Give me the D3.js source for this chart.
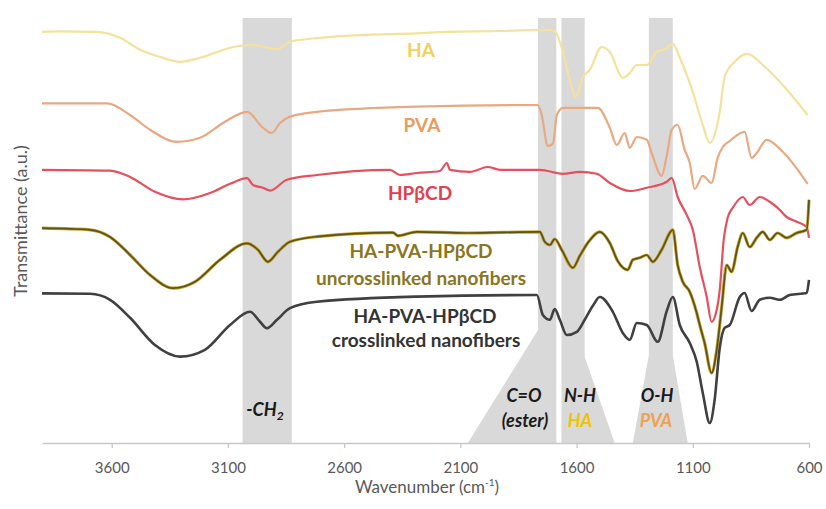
<!DOCTYPE html>
<html><head><meta charset="utf-8">
<script src="https://cdn.jsdelivr.net/npm/d3@7"></script>
<style>
body{margin:0;background:#fff}
svg{display:block}
text{font-family:Lato,"Open Sans",sans-serif}
</style>
</head><body>
<svg id="c" width="826" height="509"></svg>
<script>
// ---- data (wavenumber cm-1, transmittance a.u.) ----
const tickValues = [3600, 3100, 2600, 2100, 1600, 1100, 600];

const haSpectrum = [[3900,102.8],[3822,102.9],[3663,102.8],[3564,101.3],[3478,98.3],[3392,96.5],[3306,95.3],[3220,96.3],[3134,98],[3078,99],[2992,99.5],[2941,99],[2889,98.4],[2833,100.3],[2704,101.3],[2532,102],[2287,102.4],[2158,102.8],[1930,103],[1715,103.3],[1694,103],[1659,97.8],[1629,90.8],[1604,86.5],[1573,91.5],[1543,93.3],[1492,99],[1457,97.8],[1401,91.3],[1371,92.5],[1341,94.5],[1298,94.5],[1255,97.8],[1217,98.5],[1186,99.8],[1156,96.3],[1100,87.8],[1057,79.5],[1027,75],[984,82.8],[963,91.5],[920,95.3],[864,97.3],[799,94.5],[713,89.5],[606,82]];

const pvaSpectrum = [[3900,84.9],[3620,84.9],[3521,82],[3435,78.3],[3319,75.3],[3220,76.3],[3113,80.3],[3018,82.8],[2949,78.8],[2911,77.5],[2876,80],[2833,81.6],[2717,82.8],[2287,84.1],[1767,84.5],[1750,82],[1724,74.3],[1702,74.8],[1685,82],[1659,83.8],[1509,83.8],[1457,78.8],[1427,74.5],[1393,77.5],[1371,73.8],[1341,76.5],[1298,75.8],[1277,72.5],[1234,66.8],[1212,71.8],[1191,78.3],[1165,79.5],[1135,73.3],[1113,70],[1092,63.5],[1057,66.8],[1019,65],[993,71.3],[971,74],[941,75.5],[877,77.8],[847,71.3],[825,72.5],[782,75.8],[713,72.8],[606,64.8]];

const hpbcdSpectrum = [[3900,68.3],[3607,68.1],[3521,66.5],[3414,62.8],[3293,60.9],[3177,62.5],[3091,64.8],[3018,66.2],[2992,64.5],[2949,63.8],[2919,63.1],[2846,65.8],[2717,67],[2403,68.3],[2360,67],[2287,67.5],[2188,68],[2158,70],[2145,68.3],[2059,67.8],[1982,69],[1930,68.3],[1758,68.3],[1659,67.3],[1586,67.8],[1513,67.3],[1457,65],[1371,63],[1298,63.8],[1212,65.3],[1191,66.3],[1165,61.5],[1126,57],[1100,53.3],[1070,44],[1040,36.5],[1019,30.3],[997,33.3],[984,38.3],[967,50.8],[950,56.3],[928,58.8],[885,61.5],[855,59.5],[812,61.5],[769,60.3],[735,58.8],[696,56.5],[653,55.3],[610,54],[600,51.3]];

const uncrosslinkedSpectrum = [[3900,53.7],[3693,53.3],[3607,51.5],[3521,47],[3435,42],[3336,38.7],[3242,40.3],[3134,45.8],[3018,49.9],[2971,48.3],[2928,45.3],[2885,47.8],[2833,50.3],[2717,51.6],[2390,52.6],[2369,51.8],[2287,52.8],[2072,52.5],[1758,52.8],[1737,50.3],[1715,49.5],[1694,51],[1664,48.3],[1616,43.8],[1586,46.8],[1552,50],[1500,52.8],[1457,50],[1423,45.5],[1380,43.3],[1358,45.8],[1328,46.3],[1298,47],[1272,45.3],[1234,48.3],[1186,53.3],[1165,44.5],[1143,40.3],[1113,37.8],[1083,32.5],[1070,29.5],[1049,25],[1019,17.5],[997,23.3],[976,33.8],[954,44.5],[933,42.8],[907,49],[885,52.5],[855,49],[825,51.3],[799,52.8],[769,50.8],[735,52.5],[696,51.3],[653,52.5],[610,53.3],[600,60.8]];

const crosslinkedSpectrum = [[3900,37.4],[3693,37.3],[3607,35.8],[3521,31.3],[3414,24.5],[3306,21.6],[3199,23.3],[3091,29.5],[3005,32.8],[2962,30.3],[2932,28.7],[2889,30.8],[2833,33.7],[2717,35.3],[2287,36.6],[1771,37],[1745,32],[1715,30.8],[1694,33.5],[1672,30.8],[1642,27],[1599,27.8],[1565,30.8],[1530,34.3],[1500,36.5],[1444,32.8],[1401,27.5],[1371,25.8],[1341,30],[1298,29.5],[1251,25.3],[1212,33],[1186,36.5],[1156,29.5],[1113,25],[1083,20.3],[1057,12.5],[1027,5],[1006,10.8],[984,23.8],[963,28.8],[941,29.5],[898,36.5],[877,37.5],[847,33],[812,35.8],[769,36.3],[726,35.8],[683,37],[610,37.5],[600,40.8]];

// highlighted bands: [high wn, low wn]
const bandCH2 = [3037, 2825];
const bandTop = 106.25;
// flare polygons below bands, [wn, T]
const flareCO = [[1766,106.25],[1687,106.25],[1687,0],[2068,0],[1766,28.25]];
const flareNH = [[1665,106.25],[1565,106.25],[1565,21.5],[1436,0],[1665,0]];
const flareOH = [[1289,106.25],[1186,106.25],[1186,22],[1122,0],[1358,0],[1289,22]];

// ---- drawing ----
const svg = d3.select("#c");
const x = d3.scaleLinear().domain([3900, 600]).range([42, 809]);
const y = d3.scaleLinear().domain([0, 100]).range([443, 43]);

const bandColor = "#d9d9d9";
const poly = d3.line().x(d => x(d[0])).y(d => y(d[1]));
svg.append("rect").attr("x", x(bandCH2[0])).attr("width", x(bandCH2[1]) - x(bandCH2[0]))
  .attr("y", y(bandTop)).attr("height", y(0) - y(bandTop)).attr("fill", bandColor);
[flareCO, flareNH, flareOH].forEach(p => {
  svg.append("path").attr("d", poly(p) + "Z").attr("fill", bandColor);
});

// axis
const ax = svg.append("g").attr("transform", `translate(0,${y(0)})`)
  .call(d3.axisBottom(x).tickValues(tickValues).tickSize(5).tickSizeOuter(0).tickPadding(14).tickFormat(d3.format("d")));
ax.select(".domain").attr("stroke", "#c8c8c8").attr("stroke-width", 1.3);
ax.selectAll(".tick line").attr("stroke", "#c8c8c8").attr("stroke-width", 1.3);
ax.selectAll(".tick text").attr("fill", "#595959").style("font-size", "15px").style("font-family", "Lato");

const line = d3.line().x(d => x(d[0])).y(d => y(d[1])).curve(d3.curveMonotoneX);
const series = [
  {data: haSpectrum, color: "#f4e19c", w: 2.2},
  {data: pvaSpectrum, color: "#e8a982", w: 2.2},
  {data: hpbcdSpectrum, color: "#e6505c", w: 2.2},
];
series.forEach(s => svg.append("path").attr("d", line(s.data)).attr("fill", "none")
  .attr("stroke", s.color).attr("stroke-width", s.w).attr("stroke-linejoin", "round"));
svg.append("path").attr("d", line(uncrosslinkedSpectrum)).attr("fill", "none")
  .attr("stroke", "#c2a238").attr("stroke-width", 3.2).attr("stroke-linejoin", "round");
svg.append("path").attr("d", line(uncrosslinkedSpectrum)).attr("fill", "none")
  .attr("stroke", "#5e5212").attr("stroke-width", 1.7).attr("stroke-linejoin", "round");
svg.append("path").attr("d", line(crosslinkedSpectrum)).attr("fill", "none")
  .attr("stroke", "#404040").attr("stroke-width", 2.6).attr("stroke-linejoin", "round");

// series labels
function label(txt, cx, by, color, size, style) {
  return svg.append("text").attr("x", cx).attr("y", by).attr("text-anchor", "middle")
    .attr("fill", color).style("font-size", size + "px").style("font-weight", "bold")
    .style("font-style", style || "normal").text(txt);
}
label("HA", 421, 57, "#f3cf5f", 19);
label("PVA", 422, 132, "#e99c5c", 19);
label("HPβCD", 420, 200, "#e0404f", 19);
label("HA-PVA-HPβCD", 421, 258, "#8a7520", 19);
label("uncrosslinked nanofibers", 421, 285, "#8a7520", 19);
label("HA-PVA-HPβCD", 425, 323, "#333333", 19);
label("crosslinked nanofibers", 426, 347, "#333333", 19);

// band labels
const ch = label("-CH", 265, 416, "#1a1a1a", 18, "italic");
ch.append("tspan").attr("dy", 4).style("font-size", "12px").text("2");
label("C=O", 524, 402, "#1a1a1a", 18, "italic");
label("(ester)", 525, 427, "#1a1a1a", 18, "italic");
label("N-H", 580, 402, "#1a1a1a", 18, "italic");
label("HA", 580, 427, "#f2c200", 18, "italic");
label("O-H", 657, 402, "#1a1a1a", 18, "italic");
label("PVA", 656, 427, "#f0a050", 18, "italic");

// axis titles
const xt = svg.append("text").attr("x", 427).attr("y", 493).attr("text-anchor", "middle")
  .attr("fill", "#595959").style("font-size", "17px").text("Wavenumber (cm");
xt.append("tspan").attr("dy", -7).style("font-size", "10px").text("-1");
xt.append("tspan").attr("dy", 7).text(")");
svg.append("text").attr("transform", "translate(27,221) rotate(-90)").attr("text-anchor", "middle")
  .attr("fill", "#595959").style("font-size", "18px").text("Transmittance (a.u.)");
</script>
</body></html>
